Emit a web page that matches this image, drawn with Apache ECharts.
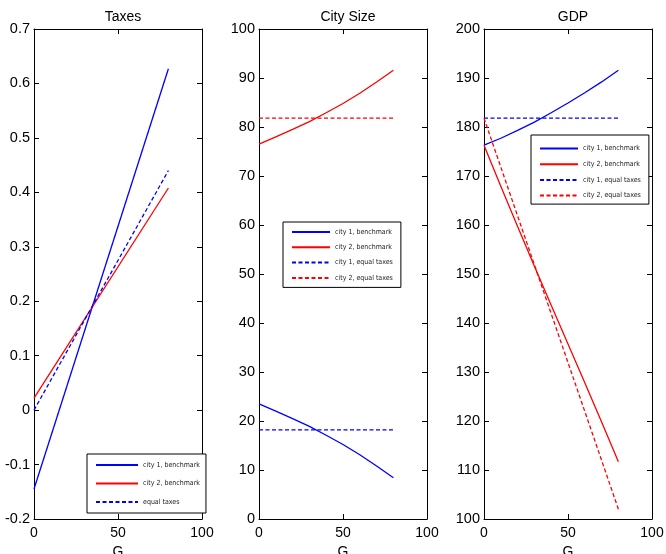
<!DOCTYPE html>
<html><head><meta charset="utf-8">
<script src="https://cdn.jsdelivr.net/npm/echarts@6/dist/echarts.min.js"></script>
<style>html,body{margin:0;padding:0;background:#fff}#c{width:666px;height:554px}</style>
</head><body><div id="c"></div>
<script>
// ---- data ----
const titles = ['Taxes', 'City Size', 'GDP'];
const gEnds = [0, 80];
const gGrid = [0, 10, 20, 30, 40, 50, 60, 70, 80];

// Taxes (straight lines)
const taxCity1Bench = [-0.145, 0.627];
const taxCity2Bench = [0.022, 0.408];
const taxEqual = [0.0, 0.44];

// City size
const sizeCity1Bench = [23.5, 22.0, 20.5, 18.9, 17.1, 15.2, 13.1, 10.8, 8.4];
const sizeCity2Bench = [76.5, 78.0, 79.5, 81.1, 82.9, 84.8, 86.9, 89.2, 91.6];
const sizeCity1Equal = [18.2, 18.2];
const sizeCity2Equal = [81.8, 81.8];

// GDP
const gdpCity1Bench = [176.3, 177.7, 179.3, 181.0, 182.9, 184.9, 187.0, 189.2, 191.6];
const gdpCity2Bench = [176.3, 167.9, 159.7, 151.6, 143.6, 135.7, 127.8, 119.8, 111.7];
const gdpCity1Equal = [181.8, 181.8];
const gdpCity2Equal = [181.8, 102.0];

const yRanges = [[-0.2, 0.7, 0.1], [0, 100, 10], [100, 200, 10]];

// ---- choose narrowest available font for legend text ----
const mctx = document.createElement('canvas').getContext('2d');
function w(f) { mctx.font = '9px ' + f; return mctx.measureText('city 1, benchmark').width; }
const fallbackW = w('monospace');
let legFont = 'Liberation Sans', legSize = 6.5;
[['"Liberation Sans Narrow"', 8], ['"DejaVu Sans Condensed"', 7], ['"Roboto Condensed"', 8]].some(([f, s]) => {
  if (Math.abs(w(f + ', monospace') - fallbackW) > 0.5) { legFont = f.replace(/"/g, ''); legSize = s; return true; }
  return false;
});

// ---- build ----
const pair = (xs, ys) => xs.map((x, i) => [x, ys[i]]);
const lefts = [34, 259, 484];
const pw = 168;
const FONT = 'Liberation Sans, Arial, sans-serif';
const grids = [], xAxes = [], yAxes = [], series = [], titleArr = [], legends = [];

lefts.forEach((l, i) => {
  grids.push({left: l, width: pw, top: 29, height: 490, show: false, containLabel: false, outerBoundsMode: 'none'});
  const tick = {show: true, inside: true, length: 5, lineStyle: {color: '#000'}};
  const line = {show: true, onZero: false, lineStyle: {color: '#000', width: 1}};
  xAxes.push({gridIndex: i, type: 'value', min: 0, max: 100, interval: 50, position: 'bottom',
    axisLine: line, axisTick: tick, splitLine: {show: false},
    axisLabel: {color: '#000', fontSize: 14, fontFamily: FONT, margin: 7},
    name: 'G', nameLocation: 'middle', nameGap: 22, nameTextStyle: {color: '#000', fontSize: 14, fontFamily: FONT}});
  xAxes.push({gridIndex: i, type: 'value', min: 0, max: 100, interval: 50, position: 'top',
    axisLine: line, axisTick: tick, splitLine: {show: false}, axisLabel: {show: false}});
  const [mn, mx, iv] = yRanges[i];
  yAxes.push({gridIndex: i, type: 'value', min: mn, max: mx, interval: iv, position: 'left',
    axisLine: line, axisTick: tick, splitLine: {show: false},
    axisLabel: {color: '#000', fontSize: 14.5, fontFamily: FONT, margin: 4,
      formatter: v => (Math.round(v * 10) / 10).toString()}});
  yAxes.push({gridIndex: i, type: 'value', min: mn, max: mx, interval: iv, position: 'right',
    axisLine: line, axisTick: tick, splitLine: {show: false}, axisLabel: {show: false}});
  titleArr.push({text: titles[i], left: l + pw / 2, top: 5, textAlign: 'center',
    textStyle: {fontSize: 14, fontWeight: 'normal', color: '#000', fontFamily: FONT}});
});

function addSeries(name, gi, data, color, dashed) {
  series.push({name, type: 'line', xAxisIndex: gi * 2, yAxisIndex: gi * 2, data,
    symbol: 'none', showSymbol: false, smooth: false, animation: false,
    lineStyle: {color, width: 1.3, type: dashed ? [4, 2.5] : 'solid'}, itemStyle: {color}});
}
addSeries('city 1, benchmark', 0, pair(gEnds, taxCity1Bench), '#0000ff', false);
addSeries('city 2, benchmark', 0, pair(gEnds, taxCity2Bench), '#ff0000', false);
addSeries('equal taxes', 0, pair(gEnds, taxEqual), '#0000ff', true);

addSeries('city 1, benchmark', 1, pair(gGrid, sizeCity1Bench), '#0000ff', false);
addSeries('city 2, benchmark', 1, pair(gGrid, sizeCity2Bench), '#ff0000', false);
addSeries('city 1, equal taxes', 1, pair(gEnds, sizeCity1Equal), '#0000ff', true);
addSeries('city 2, equal taxes', 1, pair(gEnds, sizeCity2Equal), '#ff0000', true);

addSeries('city 1, benchmark', 2, pair(gGrid, gdpCity1Bench), '#0000ff', false);
addSeries('city 2, benchmark', 2, pair(gGrid, gdpCity2Bench), '#ff0000', false);
addSeries('city 1, equal taxes', 2, pair(gEnds, gdpCity1Equal), '#0000ff', true);
addSeries('city 2, equal taxes', 2, pair(gEnds, gdpCity2Equal), '#ff0000', true);

const legStyle = {orient: 'vertical', backgroundColor: '#fff', borderColor: '#000', borderWidth: 1,
  borderRadius: 0, selectedMode: false, itemStyle: {opacity: 0},
  textStyle: {fontSize: legSize, color: '#222', fontFamily: legFont}};
legends.push(Object.assign({}, legStyle, {left: 87, top: 454, itemWidth: 42, itemHeight: 10, itemGap: 10.5,
  padding: [7, 6, 7, 8], data: ['city 1, benchmark', 'city 2, benchmark', 'equal taxes']}));
legends.push(Object.assign({}, legStyle, {left: 283, top: 222, itemHeight: 8, itemGap: 8.3,
  padding: [6.5, 8, 6, 8], itemWidth: 38,
  data: ['city 1, benchmark', 'city 2, benchmark', 'city 1, equal taxes', 'city 2, equal taxes']}));
legends.push(Object.assign({}, legStyle, {left: 531, top: 135, itemHeight: 8, itemGap: 8.7,
  padding: [10, 8, 5, 8], itemWidth: 38,
  data: ['city 1, benchmark', 'city 2, benchmark', 'city 1, equal taxes', 'city 2, equal taxes']}));

const chart = echarts.init(document.getElementById('c'), null, {renderer: 'canvas'});
chart.setOption({animation: false, backgroundColor: '#fff', title: titleArr, grid: grids,
  xAxis: xAxes, yAxis: yAxes, legend: legends, series});
</script></body></html>
